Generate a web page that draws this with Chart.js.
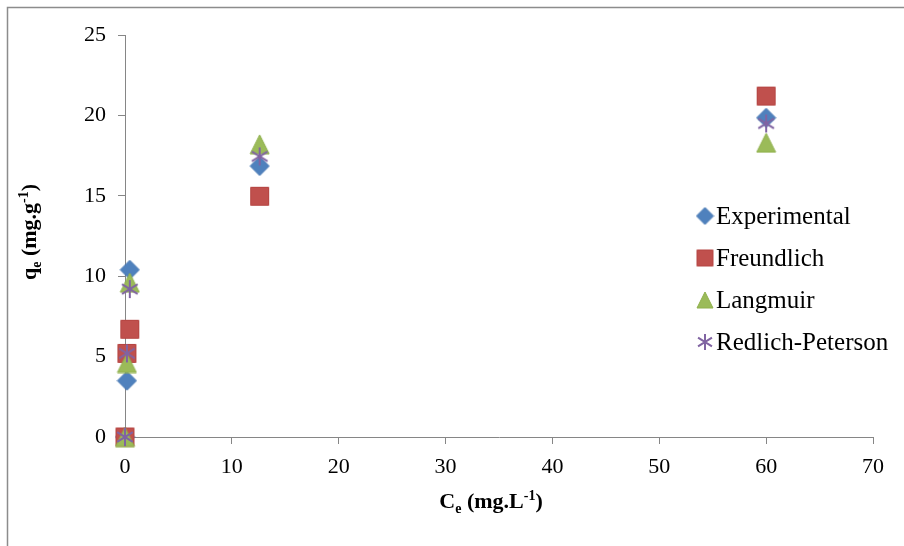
<!DOCTYPE html>
<html>
<head>
<meta charset="utf-8">
<script src="https://cdn.jsdelivr.net/npm/chart.js@4"></script>
<style>
  html, body { margin: 0; padding: 0; background: #fff; }
  #contenedor { width: 904px; height: 546px; }
</style>
</head>
<body>
<div id="contenedor"><canvas id="grafico" width="904" height="546"></canvas></div>
<script>
// Ce (mg/L) de cada punto, compartido por todas las series
const ceValores = [0, 0.18, 0.45, 12.6, 60];
// qe (mg/g) experimental y de cada modelo
const qeExperimental = [0, 3.5, 10.4, 16.85, 19.85];
const qeFreundlich = [0, 5.2, 6.7, 14.97, 21.2];
const qeLangmuir = [0, 4.6, 9.6, 18.2, 18.3];
const qeRedlichPeterson = [0, 5.2, 9.2, 17.45, 19.5];
const nombresSeries = ['Experimental', 'Freundlich', 'Langmuir', 'Redlich-Peterson'];
const ticksX = [0, 10, 20, 30, 40, 50, 60, 70];
const ticksY = [0, 5, 10, 15, 20, 25];

const FUENTE = '"Liberation Serif", "Times New Roman", serif';
const GRIS = '#868686';

// marcadores estilo Excel dibujados en un canvas pequeño
function crearMarcador(tipo, tam) {
  const c = document.createElement('canvas');
  c.width = tam + 2;
  c.height = tam + 2;
  const g = c.getContext('2d');
  const m = c.width / 2;
  const r = tam / 2;
  g.lineWidth = 1;
  g.beginPath();
  if (tipo === 'rombo') {
    g.moveTo(m, m - r); g.lineTo(m + r, m); g.lineTo(m, m + r); g.lineTo(m - r, m); g.closePath();
    g.fillStyle = '#4f81bd'; g.strokeStyle = '#4072b0';
    g.fill(); g.stroke();
  } else if (tipo === 'cuadro') {
    g.rect(m - r + 0.5, m - r + 0.5, tam - 1, tam - 1);
    g.fillStyle = '#c0504d'; g.strokeStyle = '#b54542';
    g.fill(); g.stroke();
  } else if (tipo === 'triangulo') {
    g.moveTo(m, m - r); g.lineTo(m + r, m + r); g.lineTo(m - r, m + r); g.closePath();
    g.fillStyle = '#9bbb59'; g.strokeStyle = '#8fb04d';
    g.fill(); g.stroke();
  } else {
    // asterisco: vertical + dos diagonales
    g.lineWidth = 2;
    g.strokeStyle = '#8064a2';
    g.moveTo(m, m - r); g.lineTo(m, m + r);
    const dx = r * 0.87, dy = r * 0.55;
    g.moveTo(m - dx, m - dy); g.lineTo(m + dx, m + dy);
    g.moveTo(m - dx, m + dy); g.lineTo(m + dx, m - dy);
    g.stroke();
  }
  return c;
}

const marcadores = [
  crearMarcador('rombo', 19),
  crearMarcador('cuadro', 19),
  crearMarcador('triangulo', 19),
  crearMarcador('asterisco', 18)
];
const marcadoresLeyenda = [
  crearMarcador('rombo', 17),
  crearMarcador('cuadro', 17),
  crearMarcador('triangulo', 16),
  crearMarcador('asterisco', 16)
];

const series = [qeExperimental, qeFreundlich, qeLangmuir, qeRedlichPeterson];
const datasets = series.map((valores, i) => ({
  label: nombresSeries[i],
  data: valores.map((q, j) => ({ x: ceValores[j], y: q })),
  pointStyle: marcadores[i],
  pointRadius: 10,
  showLine: false,
  clip: false,
  // Excel pinta la última serie encima
  order: series.length - i
}));

// texto con subíndices / superíndices
function dibujarTextoRico(ctx, partes, x, y, tam) {
  const chico = Math.round(tam * 0.65);
  let ancho = 0;
  partes.forEach(p => {
    ctx.font = `bold ${p.t ? chico : tam}px ${FUENTE}`;
    ancho += ctx.measureText(p.s).width;
  });
  let cx = x - ancho / 2;
  ctx.textAlign = 'left';
  ctx.textBaseline = 'alphabetic';
  partes.forEach(p => {
    ctx.font = `bold ${p.t ? chico : tam}px ${FUENTE}`;
    let dy = 0;
    if (p.t === 'sub') dy = tam * 0.22;
    if (p.t === 'sup') dy = -tam * 0.38;
    ctx.fillText(p.s, cx, y + dy);
    cx += ctx.measureText(p.s).width;
  });
}

const decoracion = {
  id: 'decoracion',
  beforeDraw(chart) {
    const ctx = chart.ctx;
    ctx.save();
    ctx.fillStyle = '#fff';
    ctx.fillRect(0, 0, chart.width, chart.height);
    ctx.strokeStyle = '#8c8c8c';
    ctx.lineWidth = 1.5;
    ctx.beginPath();
    ctx.moveTo(7.5, chart.height + 5);
    ctx.lineTo(7.5, 7.5);
    ctx.lineTo(chart.width + 5, 7.5);
    ctx.stroke();
    ctx.restore();
  },
  afterDraw(chart) {
    const ctx = chart.ctx;
    ctx.save();
    ctx.fillStyle = '#000';
    // título eje x
    dibujarTextoRico(ctx, [
      { s: 'C' }, { s: 'e', t: 'sub' }, { s: ' (mg.L' }, { s: '-1', t: 'sup' }, { s: ')' }
    ], 491, 508, 22);
    // título eje y
    ctx.save();
    ctx.translate(36, 232);
    ctx.rotate(-Math.PI / 2);
    dibujarTextoRico(ctx, [
      { s: 'q' }, { s: 'e', t: 'sub' }, { s: ' (mg.g' }, { s: '-1', t: 'sup' }, { s: ')' }
    ], 0, 0, 22);
    ctx.restore();
    // leyenda
    const xMarca = 705, xTexto = 716, y0 = 216, paso = 42;
    ctx.font = `25px ${FUENTE}`;
    ctx.textAlign = 'left';
    ctx.textBaseline = 'alphabetic';
    nombresSeries.forEach((nombre, i) => {
      const y = y0 + i * paso;
      const img = marcadoresLeyenda[i];
      ctx.drawImage(img, xMarca - img.width / 2, y - img.height / 2);
      ctx.fillText(nombre, xTexto, y + 8);
    });
    ctx.restore();
  }
};

const ejeComun = {
  type: 'linear',
  border: { color: GRIS, width: 1 },
  grid: { drawOnChartArea: false, drawTicks: true, tickLength: 7, color: GRIS },
  ticks: { font: { family: FUENTE, size: 22 }, color: '#000', maxRotation: 0 }
};

new Chart(document.getElementById('grafico').getContext('2d'), {
  type: 'scatter',
  data: { datasets },
  plugins: [decoracion],
  options: {
    responsive: false,
    animation: false,
    events: [],
    layout: { padding: { left: 0, right: 31, top: 35, bottom: 0 } },
    plugins: { legend: { display: false }, tooltip: { enabled: false } },
    scales: {
      x: {
        ...ejeComun,
        min: 0, max: 70,
        ticks: { ...ejeComun.ticks, padding: 10 },
        afterBuildTicks: s => { s.ticks = ticksX.map(v => ({ value: v })); },
        afterFit: s => { s.height = 109; }
      },
      y: {
        ...ejeComun,
        min: 0, max: 25,
        ticks: { ...ejeComun.ticks, padding: 12 },
        afterBuildTicks: s => { s.ticks = ticksY.map(v => ({ value: v })); },
        afterFit: s => { s.width = 125; }
      }
    }
  }
});
</script>
</body>
</html>
